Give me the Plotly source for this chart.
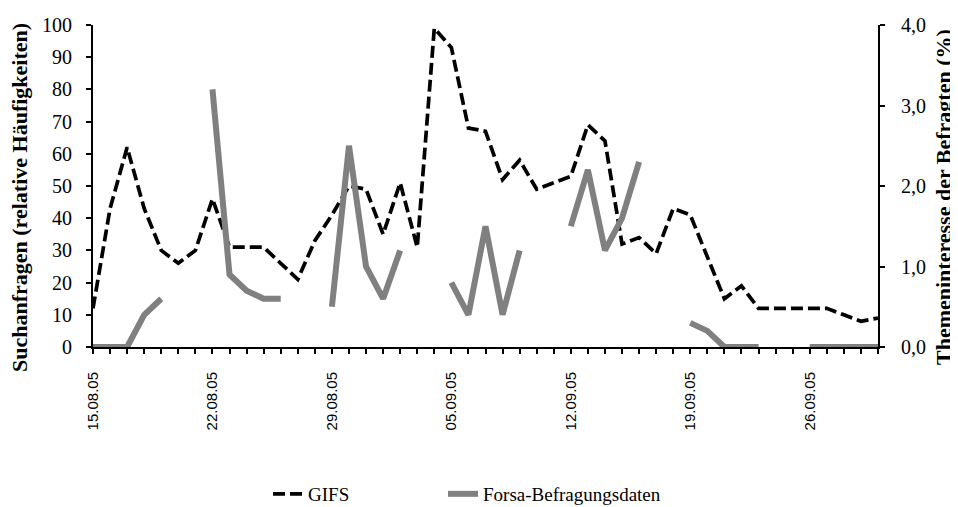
import plotly.graph_objects as go
import pandas as pd

dates = pd.date_range("2005-08-15", "2005-09-30", freq="D")

gifs = [12, 43, 62, 43, 30, 26, 30, 46, 31, 31,
        31, 26, 21, 33, 41, 50, 49, 35, 51, 31,
        99, 93, 68, 67, 52, 58, 49, 51, 53, 69,
        64, 32, 34, 29, 43, 41, 28, 15, 19, 12,
        12, 12, 12, 12, 10, 8, 9]

forsa = [0, 0, 0, 0.4, 0.6, None, None, 3.2, 0.9, 0.7,
         0.6, 0.6, None, None, 0.5, 2.5, 1.0, 0.6, 1.2, None,
         None, 0.8, 0.4, 1.5, 0.4, 1.2, None, None, 1.5, 2.2,
         1.2, 1.6, 2.3, None, None, 0.3, 0.2, 0, 0, 0,
         None, None, 0, 0, 0, 0, 0]

tick_dates = pd.date_range("2005-08-15", "2005-09-26", freq="7D")
tick_labels = [d.strftime("%d.%m.%y") for d in tick_dates]

left_title = "Suchanfragen (relative Häufigkeiten)"
right_title = "Themeninteresse der Befragten (%)"

serif = "Liberation Serif, Times New Roman, serif"
sans = "Liberation Sans, Arial, sans-serif"

fig = go.Figure()
fig.add_trace(go.Scatter(x=dates, y=gifs, name="GIFS", mode="lines",
                         line=dict(color="black", width=3.7, dash="12px,5px"),
                         yaxis="y", legend="legend", showlegend=True))
fig.add_trace(go.Scatter(x=dates, y=forsa, name="Forsa-Befragungsdaten", mode="lines",
                         line=dict(color="#808080", width=6),
                         connectgaps=False, yaxis="y2", legend="legend2", showlegend=True))
# helper trace so the right axis line / tick-mark axis (y3) is drawn
fig.add_trace(go.Scatter(x=[dates[0]], y=[None], yaxis="y3", showlegend=False,
                         hoverinfo="skip", mode="lines"))

axis_common = dict(showgrid=False, zeroline=False, automargin=False)
XDOM = 785 / 807

fig.update_layout(
    width=950, height=499,
    margin=dict(l=85, r=58, t=17, b=160, autoexpand=False),
    plot_bgcolor="white", paper_bgcolor="white",
    separators=",.",
    showlegend=True,
    font=dict(family=serif, size=20, color="black"),
    xaxis=dict(type="date", range=[dates[0], dates[-1]], domain=[0, XDOM],
               tickvals=list(tick_dates), ticktext=tick_labels,
               tickangle=-90, tickfont=dict(family=sans, size=15),
               ticklabelstandoff=12,
               showline=True, linecolor="black", linewidth=2,
               ticks="outside", ticklen=5, tickcolor="black", tickwidth=1.5,
               minor=dict(dtick=86400000, ticks="outside", ticklen=5,
                          tickcolor="black", tickwidth=1.5, showgrid=False),
               layer="below traces", **axis_common),
    yaxis=dict(range=[0, 100], dtick=10, tickfont=dict(size=20),
               ticklabelstandoff=10,
               showline=True, linecolor="black", linewidth=2,
               ticks="outside", ticklen=5, tickcolor="black", tickwidth=1.5,
               **axis_common),
    yaxis2=dict(range=[0, 4], dtick=1, tickformat=".1f", overlaying="y", side="right",
                anchor="free", position=1,
                tickfont=dict(size=20), showline=False, ticks="",
                **axis_common),
    yaxis3=dict(range=[0, 4], dtick=1, overlaying="y", side="right", anchor="x",
                showticklabels=False, showline=True, linecolor="black", linewidth=2,
                ticks="outside", ticklen=5, tickcolor="black", tickwidth=1.5,
                **axis_common),
    legend=dict(orientation="h", x=0.2169, xanchor="left", y=-0.4565, yanchor="middle",
                font=dict(size=19), bgcolor="rgba(0,0,0,0)"),
    legend2=dict(orientation="h", x=0.4337, xanchor="left", y=-0.4565, yanchor="middle",
                 font=dict(size=19), bgcolor="rgba(0,0,0,0)", visible=True),
    annotations=[
        dict(text="<b>" + left_title + "</b>", textangle=-90, xref="paper", yref="paper",
             x=-0.0917, y=0.4658, xanchor="center", yanchor="middle", showarrow=False,
             font=dict(size=22)),
        dict(text="<b>" + right_title + "</b>", textangle=-90, xref="paper", yref="paper",
             x=1.0533, y=0.4658, xanchor="center", yanchor="middle", showarrow=False,
             font=dict(size=22)),
    ],
)

fig.write_html("out.html")
